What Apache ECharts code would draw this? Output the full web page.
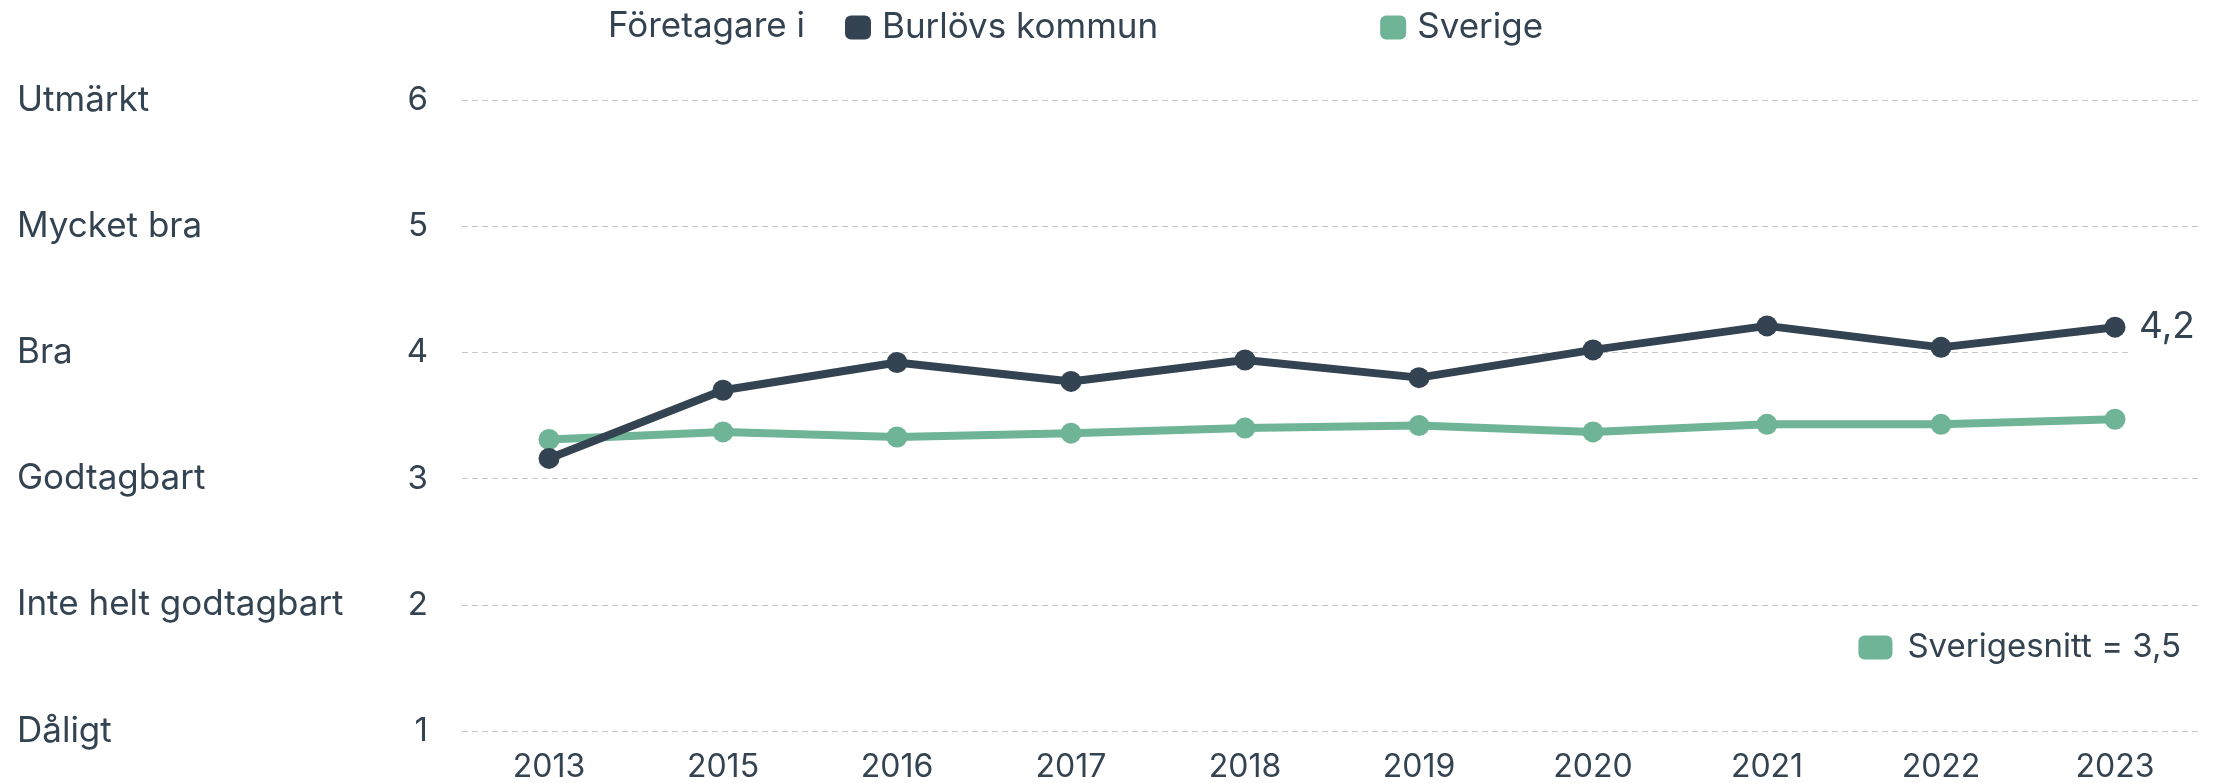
<!DOCTYPE html>
<html>
<head>
<meta charset="utf-8">
<script src="https://cdn.jsdelivr.net/npm/echarts@6/dist/echarts.min.js"></script>
<style>
  html, body { margin: 0; padding: 0; background: #fff; }
  #main { width: 2232px; height: 783px; }
</style>
</head>
<body>
<div id="main"></div>
<script>
// data
let years = ["2013", "2015", "2016", "2017", "2018", "2019", "2020", "2021", "2022", "2023"];
let burlov = [3.16, 3.70, 3.92, 3.77, 3.94, 3.80, 4.02, 4.21, 4.04, 4.20];
let sverige = [3.31, 3.37, 3.33, 3.36, 3.40, 3.42, 3.37, 3.43, 3.43, 3.47];
let ratingTicks = [1, 2, 3, 4, 5, 6];
let ratingLabels = ["Dåligt", "Inte helt godtagbart", "Godtagbart", "Bra", "Mycket bra", "Utmärkt"];
let sverigeSnitt = 3.5;

let dark = "#344352";
let green = "#70b497";
let font = "Inter";

let fmt = function (v) {
    return v.toFixed(1).replace(".", ",");
};

let dom = document.getElementById("main");
let myChart = echarts.init(dom, null, {
    renderer: "canvas",
    useDirtyRect: false,
});

let option = {
    animation: false,
    textStyle: { fontFamily: font, color: dark },
    title: {
        text: "Företagare i",
        left: 603,
        top: 4,
        textStyle: { fontFamily: font, fontSize: 35, fontWeight: "normal", color: dark },
    },
    legend: [{
            data: ["Burlövs kommun", "Sverige"],
            left: 840,
            top: 5,
            icon: "roundRect",
            itemWidth: 26,
            itemHeight: 24,
            itemGap: 222,
            textStyle: { fontFamily: font, fontSize: 35, color: dark, padding: [0, 0, 0, 6] },
        },
        {
            data: ["Sverige"],
            right: 46,
            top: 626,
            icon: "roundRect",
            itemWidth: 34,
            itemHeight: 24,
            itemGap: 10,
            formatter: function () {
                return "Sverigesnitt = " + fmt(sverigeSnitt);
            },
            textStyle: { fontFamily: font, fontSize: 33, color: dark, padding: [0, 0, 0, 10] },
        },
    ],
    grid: {
        left: 462,
        right: 30,
        top: 100,
        bottom: 51,
    },
    xAxis: {
        type: "category",
        data: years,
        boundaryGap: true,
        axisLine: { show: false },
        axisTick: { show: false },
        axisLabel: { fontFamily: font, fontSize: 32, color: dark, margin: 20 },
    },
    yAxis: [{
            type: "value",
            min: 1,
            max: 6,
            interval: 1,
            axisLine: { show: false },
            axisTick: { show: false },
            splitLine: { lineStyle: { color: "#c8c8c8", type: [6, 4], width: 1 } },
            axisLabel: { fontFamily: font, fontSize: 33, color: dark, margin: 34 },
        },
        {
            type: "value",
            position: "left",
            min: 1,
            max: 6,
            interval: 1,
            axisLine: { show: false },
            axisTick: { show: false },
            splitLine: { show: false },
            axisLabel: {
                fontFamily: font,
                fontSize: 35,
                color: dark,
                align: "left",
                margin: 445,
                formatter: function (v) {
                    return ratingLabels[ratingTicks.indexOf(v)] || "";
                },
            },
        },
    ],
    series: [{
            name: "Burlövs kommun",
            type: "line",
            data: burlov,
            z: 3,
            symbol: "circle",
            symbolSize: 21,
            color: dark,
            lineStyle: { width: 8, color: dark },
            itemStyle: { color: dark },
            endLabel: {
                show: true,
                formatter: function (p) {
                    return fmt(p.value);
                },
                fontFamily: font,
                fontSize: 37,
                color: dark,
                distance: 14,
                backgroundColor: "#fff",
                padding: [4, 6, 12, 10],
            },
        },
        {
            name: "Sverige",
            type: "line",
            data: sverige,
            z: 2,
            symbol: "circle",
            symbolSize: 21,
            color: green,
            lineStyle: { width: 8, color: green },
            itemStyle: { color: green },
        },
    ],
};

if (option && typeof option === "object") {
    myChart.setOption(option);
}

window.addEventListener("resize", myChart.resize);
</script>
</body>
</html>
